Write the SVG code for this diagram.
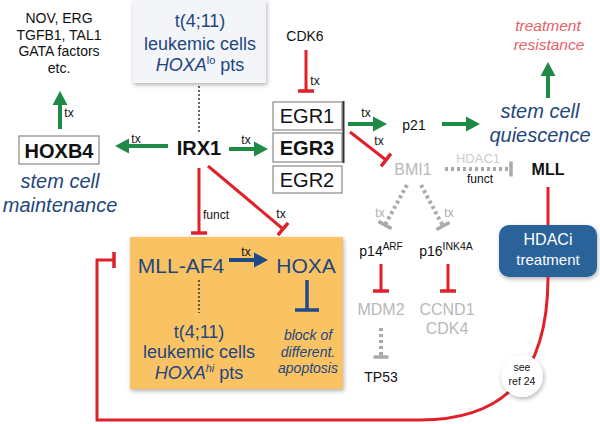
<svg xmlns="http://www.w3.org/2000/svg" width="600" height="424" viewBox="0 0 600 424">
<defs>
<filter id="sh" x="-10%" y="-10%" width="130%" height="130%"><feDropShadow dx="1" dy="2" stdDeviation="2" flood-color="#000" flood-opacity="0.3"/></filter>
<marker id="ag" markerUnits="userSpaceOnUse" markerWidth="16" markerHeight="18" viewBox="0 -9 16 18" refX="0" refY="0" orient="auto"><path d="M0,-7.5 L14,0 L0,7.5 z" fill="#1f8a45"/></marker>
<marker id="ab" markerUnits="userSpaceOnUse" markerWidth="16" markerHeight="18" viewBox="0 -9 16 18" refX="0" refY="0" orient="auto"><path d="M0,-7.5 L14,0 L0,7.5 z" fill="#1f4a8a"/></marker>
<marker id="tr" markerUnits="userSpaceOnUse" markerWidth="4" markerHeight="20" viewBox="-2 -10 4 20" refX="0" refY="0" orient="auto"><path d="M0,-8 L0,8" stroke="#e0212b" stroke-width="3.5"/></marker>
<marker id="tb" markerUnits="userSpaceOnUse" markerWidth="4" markerHeight="28" viewBox="-2 -14 4 28" refX="0" refY="0" orient="auto"><path d="M0,-12 L0,12" stroke="#1f4a8a" stroke-width="3.5"/></marker>
<marker id="tg" markerUnits="userSpaceOnUse" markerWidth="4" markerHeight="20" viewBox="-2 -10 4 20" refX="0" refY="0" orient="auto"><path d="M0,-7.5 L0,7.5" stroke="#aaaaaa" stroke-width="3.5"/></marker>
</defs>
<style>
text{font-family:"Liberation Sans",Arial,sans-serif;text-anchor:middle}
.k{fill:#111;font-size:14px}
.bl{fill:#1f4680}
.g{stroke:#1f8a45;stroke-width:4;fill:none}
.r{stroke:#e0212b;stroke-width:3;fill:none}
.gd{stroke:#aaaaaa;stroke-width:4;stroke-dasharray:3 3;fill:none}
.dot{stroke:#333;stroke-width:1.5;stroke-dasharray:2 2;fill:none}
.lbl{font-size:12px;fill:#111}
.box{fill:#fff;stroke:#888;stroke-width:1.2}
.gr{fill:#b8b8b8}
</style>

<g id="nodes">
<g id="targets"><text class="k" x="59" y="23">NOV, ERG</text><text class="k" x="59" y="39.5">TGFB1, TAL1</text><text class="k" x="59" y="56">GATA factors</text><text class="k" x="59" y="72.5">etc.</text></g>
<g id="hoxb4"><rect class="box" x="19" y="136" width="80" height="28"/><text x="59" y="158" font-size="20" font-weight="bold" fill="#111">HOXB4</text></g>
<g id="scm"><text class="bl" x="60" y="188" font-size="20" font-style="italic">stem cell</text><text class="bl" x="60" y="212" font-size="20" font-style="italic">maintenance</text></g>
<g id="hoxalo"><rect x="133" y="0" width="133" height="83" fill="#f3f5f9" filter="url(#sh)"/><text class="bl" x="200" y="27" font-size="18">t(4;11)</text><text class="bl" x="200" y="50" font-size="18">leukemic cells</text><text class="bl" x="200" y="71" font-size="18"><tspan font-style="italic">HOXA</tspan><tspan font-size="11" dy="-7">lo</tspan><tspan dy="7"> pts</tspan></text></g>
<g id="irx1"><text x="199" y="155" font-size="20" font-weight="bold" fill="#111">IRX1</text></g>
<g id="cdk6"><text class="k" x="305" y="41" font-size="16">CDK6</text></g>
<g id="egr"><rect class="box" x="273" y="102" width="69" height="28"/><rect class="box" x="273" y="133" width="69" height="29"/><rect class="box" x="273" y="166" width="69" height="27"/><line x1="343.5" y1="101" x2="343.5" y2="163" stroke="#333" stroke-width="2"/><text x="307" y="123" font-size="20" fill="#111">EGR1</text><text x="307" y="155" font-size="20" font-weight="bold" fill="#111">EGR3</text><text x="307" y="187" font-size="20" fill="#111">EGR2</text></g>
<g id="p21"><text class="k" x="414" y="130" font-size="15.5">p21</text></g>
<g id="scq"><text class="bl" x="540" y="118" font-size="20" font-style="italic">stem cell</text><text class="bl" x="540" y="142" font-size="20" font-style="italic">quiescence</text></g>
<g id="tres"><text x="548" y="31" font-size="15.5" font-style="italic" fill="#e8606a">treatment</text><text x="549" y="50" font-size="15.5" font-style="italic" fill="#e8606a">resistance</text></g>
<g id="bmi1"><text class="gr" x="413" y="175" font-size="16">BMI1</text></g>
<g id="mll"><text x="548" y="175" font-size="16" font-weight="bold" fill="#111">MLL</text></g>
<g id="hdaci"><rect x="499" y="225" width="98" height="52" rx="10" fill="#2a629a" filter="url(#sh)"/><text x="548" y="245" font-size="16" fill="#fff">HDACi</text><text x="548" y="265" font-size="15" fill="#fff">treatment</text></g>
<g id="p14"><text class="k" x="381" y="256" font-size="17.5">p14<tspan font-size="10" dy="-6">ARF</tspan></text></g>
<g id="p16"><text class="k" x="446" y="256" font-size="17.5">p16<tspan font-size="10.5" dy="-6">INK4A</tspan></text></g>
<g id="mdm2"><text class="gr" x="381" y="315" font-size="16">MDM2</text></g>
<g id="ccnd1"><text class="gr" x="447" y="315" font-size="16">CCND1</text><text class="gr" x="447" y="334" font-size="16">CDK4</text></g>
<g id="tp53"><text class="k" x="381" y="382" font-size="16">TP53</text></g>
<g id="mllaf4box"><rect x="130" y="237" width="213" height="152" fill="#f9c262" filter="url(#sh)"/>
<text class="bl" x="181" y="273" font-size="21">MLL-AF4</text>
<text class="bl" x="306" y="273" font-size="21">HOXA</text>
<line class="dot" x1="199" y1="280" x2="199" y2="313"/>
<text class="bl" x="199" y="338" font-size="18">t(4;11)</text><text class="bl" x="199" y="358" font-size="18">leukemic cells</text><text class="bl" x="199" y="379" font-size="18"><tspan font-style="italic">HOXA</tspan><tspan font-size="11" font-style="italic" dy="-7">hi</tspan><tspan dy="7"> pts</tspan></text>
<text x="308" y="340" font-size="14" font-style="italic" fill="#1f4680">block of</text><text x="308" y="357" font-size="14" font-style="italic" fill="#1f4680">different.</text><text x="308" y="373" font-size="14" font-style="italic" fill="#1f4680">apoptosis</text></g>
</g>

<g id="connectors">
<line class="g" x1="60" y1="129" x2="60" y2="105" marker-end="url(#ag)"/><text class="lbl" x="69" y="117">tx</text>
<line class="g" x1="168" y1="146" x2="129" y2="146" marker-end="url(#ag)"/><text class="lbl" x="136" y="143">tx</text>
<line class="g" x1="229" y1="149" x2="254" y2="149" marker-end="url(#ag)"/><text class="lbl" x="246" y="144">tx</text>
<line class="dot" x1="199" y1="86" x2="199" y2="133"/>
<line class="r" x1="306" y1="50" x2="306" y2="91" marker-end="url(#tr)"/><text class="lbl" x="315" y="85">tx</text>
<line class="g" x1="348" y1="124" x2="373" y2="124" marker-end="url(#ag)"/><text class="lbl" x="366" y="117">tx</text>
<line class="r" x1="350" y1="132" x2="386" y2="160" marker-end="url(#tr)"/><text class="lbl" x="379" y="145">tx</text>
<line class="g" x1="442" y1="124" x2="466" y2="124" marker-end="url(#ag)"/>
<line class="g" x1="548" y1="98" x2="548" y2="76" marker-end="url(#ag)"/>
<line class="gd" x1="445" y1="169" x2="511" y2="169" marker-end="url(#tg)"/><text x="478" y="163" font-size="13" fill="#cccccc">HDAC1</text><text class="lbl" x="480" y="183">funct</text>
<line class="gd" x1="407" y1="185" x2="385" y2="225" marker-end="url(#tg)"/><text x="380" y="217" font-size="12" fill="#aaa">tx</text>
<line class="gd" x1="421" y1="185" x2="443" y2="226" marker-end="url(#tg)"/><text x="449" y="217" font-size="12" fill="#aaa">tx</text>
<line class="r" x1="381" y1="264" x2="381" y2="291" marker-end="url(#tr)"/>
<line class="r" x1="448" y1="264" x2="448" y2="291" marker-end="url(#tr)"/>
<line class="gd" x1="381" y1="328" x2="381" y2="357" marker-end="url(#tg)"/>
<line class="r" x1="199" y1="168" x2="199" y2="233" marker-end="url(#tr)"/><text class="lbl" x="216" y="219">funct</text>
<line class="r" x1="208" y1="166" x2="283" y2="229" marker-end="url(#tr)"/><text class="lbl" x="281" y="218">tx</text>
<line x1="229" y1="260" x2="254" y2="260" stroke="#1f4a8a" stroke-width="4" marker-end="url(#ab)"/><text class="lbl" x="246" y="256" fill="#1f4680">tx</text>
<line x1="307" y1="280" x2="307" y2="310" stroke="#1f4a8a" stroke-width="3.5" marker-end="url(#tb)"/>
<line class="r" x1="548" y1="187" x2="548" y2="225"/>
<path class="r" d="M548,277 C548,380 500,420 420,420 L97,420 L97,260 L114,260" marker-end="url(#tr)"/>
</g>
<g id="seeref"><circle cx="522" cy="376" r="21" fill="#fff" filter="url(#sh)"/><text x="522" y="371" font-size="10.5" fill="#111">see</text><text x="522" y="385" font-size="10.5" fill="#111">ref 24</text></g>
</svg>
